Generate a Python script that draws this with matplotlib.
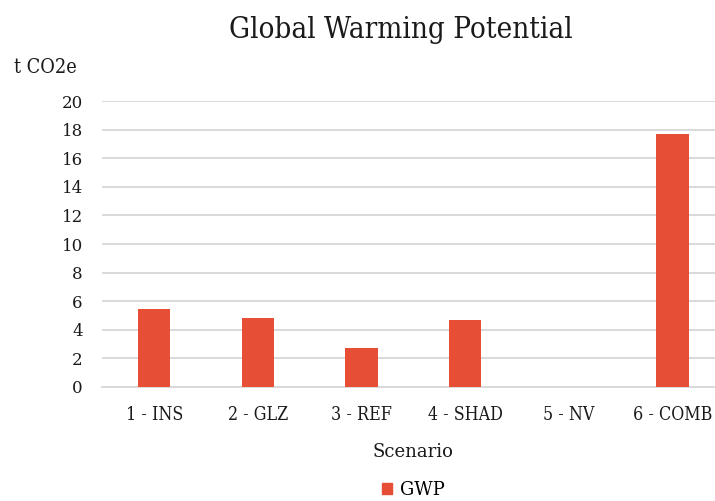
import matplotlib
matplotlib.use("Agg")
import matplotlib.pyplot as plt
from matplotlib.patches import Patch

scenarios = ["1 - INS", "2 - GLZ", "3 - REF", "4 - SHAD", "5 - NV", "6 - COMB"]
gwp = [5.45, 4.8, 2.7, 4.65, 0.0, 17.72]
y_ticks = [0, 2, 4, 6, 8, 10, 12, 14, 16, 18, 20]

bar_color = "#E64F35"
grid_color = "#D9D9D9"
text_color = "#1A1A1A"

plt.rcParams["font.family"] = ["DejaVu Serif", "Liberation Serif"]

fig = plt.figure(figsize=(7.15, 5.01), dpi=100)
# plot area runs slightly past the right edge of the canvas
ax = fig.add_axes([0.1431, 0.2281, 0.870, 0.5697])

x = range(len(scenarios))
ax.bar(x, gwp, width=0.31, color=bar_color, zorder=3)

ax.set_xlim(-0.5, len(scenarios) - 0.5)
ax.set_ylim(0, 20)
ax.set_yticks(y_ticks)
ax.set_xticks(list(x))
ax.set_xticklabels(scenarios, fontstretch="condensed", fontsize=12.8)
ax.yaxis.grid(True, color=grid_color, linewidth=1.4, zorder=0)
ax.tick_params(axis="y", length=0, pad=14, labelsize=12, labelcolor=text_color)
ax.tick_params(axis="x", length=0, pad=14, labelcolor=text_color)
for side in ["top", "right", "left"]:
    ax.spines[side].set_visible(False)
ax.spines["bottom"].set_color(grid_color)
ax.spines["bottom"].set_linewidth(1.4)

fig.text(0.561, 0.9236, "Global Warming Potential", ha="center", va="baseline",
         fontsize=21.2, color=text_color, fontstretch="condensed")
fig.text(0.020, 0.854, "t CO2e", ha="left", va="baseline",
         fontsize=14.2, color=text_color, fontstretch="condensed")

ax_mid = 0.1431 + 0.870 / 2
fig.text(ax_mid, 0.098, "Scenario", ha="center", va="center",
         fontsize=13, color=text_color)

fig.legend(handles=[Patch(color=bar_color, label="GWP")],
           loc="center", bbox_to_anchor=(ax_mid, 0.022), frameon=False,
           fontsize=13, handlelength=0.55, handleheight=0.55,
           handletextpad=0.4)

fig.savefig("out.png", dpi=100, facecolor="white")
